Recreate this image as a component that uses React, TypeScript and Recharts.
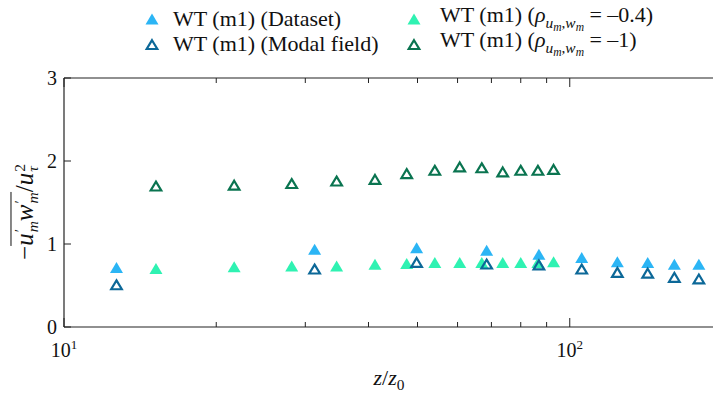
import { ScatterChart, Scatter, XAxis, YAxis } from "recharts";

const FONT = "Liberation Serif, DejaVu Serif, serif";
const INK = "#222";

// dataset and modal field share the same heights
const zDataset = [12.7, 31.3, 49.8, 68.5, 86.9, 105.6, 124.2, 142.6, 161, 180];
const uwDataset = [0.71, 0.93, 0.95, 0.92, 0.87, 0.83, 0.78, 0.77, 0.75, 0.75];
const uwModal = [0.51, 0.7, 0.78, 0.76, 0.75, 0.7, 0.66, 0.65, 0.6, 0.58];

// correlation-model heights
const zRho = [15.2, 21.7, 28.2, 34.6, 41.2, 47.6, 54.1, 60.6, 67.0, 73.7, 80.0, 86.5, 92.9];
const uwRho04 = [0.7, 0.72, 0.73, 0.73, 0.75, 0.76, 0.77, 0.77, 0.77, 0.77, 0.77, 0.77, 0.78];
const uwRho1 = [1.7, 1.71, 1.73, 1.76, 1.78, 1.85, 1.89, 1.93, 1.92, 1.87, 1.89, 1.89, 1.9];

const xTicks = [10, 20, 30, 40, 50, 60, 70, 80, 90, 100, 200];
const yTicks = [0, 1, 2, 3];

const COLORS = {
  dataset: "#2bb5f5",
  modal: "#0c6898",
  rho04: "#2ff2b2",
  rho1: "#0a7450",
};

const toPoints = (xs: number[], ys: number[]) => xs.map((z, i) => ({ z, v: ys[i] }));

const filledTriangle = (color: string) => (props: any) => {
  const { cx, cy } = props;
  return <path d={`M${cx},${cy - 6}L${cx + 6.5},${cy + 5}L${cx - 6.5},${cy + 5}Z`} fill={color} />;
};

const hollowTriangle = (color: string) => (props: any) => {
  const { cx, cy } = props;
  return (
    <path
      d={`M${cx},${cy - 4.3}L${cx + 5.3},${cy + 4.6}L${cx - 5.3},${cy + 4.6}Z`}
      fill="none"
      stroke={color}
      strokeWidth={2.2}
    />
  );
};

const isMajor = (v: number) => v === 10 || v === 100;

const BottomTick = ({ x, y, payload }: any) => {
  const v = payload.value;
  return (
    <g>
      <line x1={x} x2={x} y1={y} y2={y - (isMajor(v) ? 9 : 5)} stroke={INK} />
      {isMajor(v) && (
        <text x={x} y={y + 30} textAnchor="middle" fontSize={20} fontFamily={FONT} fill="#111">
          10
          <tspan dy={-8} fontSize={13}>
            {Math.round(Math.log10(v))}
          </tspan>
        </text>
      )}
    </g>
  );
};

const TopTick = ({ x, y, payload }: any) => (
  <line x1={x} x2={x} y1={y} y2={y + (isMajor(payload.value) ? 9 : 5)} stroke={INK} />
);

const LeftTick = ({ x, y, payload }: any) => (
  <g>
    <line x1={x} x2={x + 7} y1={y} y2={y} stroke={INK} />
    <text x={x - 7} y={y} dy="0.36em" textAnchor="end" fontSize={20} fontFamily={FONT} fill="#111">
      {payload.value}
    </text>
  </g>
);

// prime / exponent stacked over a subscript
const Stack = ({ top, bottom }: { top: string; bottom: string }) => (
  <span
    style={{
      display: "inline-flex",
      flexDirection: "column",
      fontSize: "0.62em",
      lineHeight: 0.8,
      verticalAlign: "0.5em",
      marginLeft: 1,
    }}
  >
    <span>{top}</span>
    <i>{bottom}</i>
  </span>
);

const LegendMarker = ({ color, hollow, gap }: { color: string; hollow?: boolean; gap: number }) => (
  <svg width={16} height={14} style={{ marginRight: gap, flex: "none" }}>
    {hollow ? (
      <path d="M8,3.2L13.3,12L2.7,12Z" fill="none" stroke={color} strokeWidth={2.2} />
    ) : (
      <path d="M8,1.5L14.5,12.5L1.5,12.5Z" fill={color} />
    )}
  </svg>
);

const Rho = () => (
  <>
    <i>ρ</i>
    <span style={{ fontSize: "0.7em", verticalAlign: "-0.45em" }}>
      <i>u</i>
      <i style={{ fontSize: "0.75em", verticalAlign: "-0.3em" }}>m</i>,<i>w</i>
      <i style={{ fontSize: "0.75em", verticalAlign: "-0.3em" }}>m</i>
    </span>
  </>
);

const legendRows = [
  { left: 144, top: 7, gap: 13, color: COLORS.dataset, hollow: false, text: <>WT (m1) (Dataset)</> },
  { left: 144, top: 32, gap: 13, color: COLORS.modal, hollow: true, text: <>WT (m1) (Modal field)</> },
  {
    left: 406,
    top: 7,
    gap: 18,
    color: COLORS.rho04,
    hollow: false,
    text: (
      <>
        WT (m1) (<Rho /> = –0.4)
      </>
    ),
  },
  {
    left: 406,
    top: 32,
    gap: 18,
    color: COLORS.rho1,
    hollow: true,
    text: (
      <>
        WT (m1) (<Rho /> = –1)
      </>
    ),
  },
];

export default function App() {
  return (
    <div
      style={{
        position: "absolute",
        left: 0,
        top: 0,
        width: 713,
        height: 395,
        overflow: "hidden",
        background: "#fff",
        fontFamily: FONT,
        color: "#111",
      }}
    >
      <ScatterChart width={740} height={395} margin={{ top: 78, right: 18, bottom: 0, left: 0 }}>
        <XAxis
          xAxisId="bottom"
          dataKey="z"
          type="number"
          scale="log"
          domain={[10, 200]}
          allowDataOverflow
          ticks={xTicks}
          height={68}
          tickSize={0}
          tickMargin={0}
          tickLine={false}
          tick={<BottomTick />}
          axisLine={{ stroke: INK, strokeWidth: 1.2 }}
          interval={0}
        />
        <XAxis
          xAxisId="top"
          orientation="top"
          mirror
          dataKey="z"
          type="number"
          scale="log"
          domain={[10, 200]}
          allowDataOverflow
          ticks={xTicks}
          tickSize={0}
          tickMargin={0}
          tickLine={false}
          tick={<TopTick />}
          axisLine={{ stroke: INK, strokeWidth: 1.2 }}
          interval={0}
        />
        <YAxis
          yAxisId="left"
          dataKey="v"
          type="number"
          domain={[0, 3]}
          ticks={yTicks}
          width={64}
          tickSize={0}
          tickMargin={0}
          tickLine={false}
          tick={<LeftTick />}
          axisLine={{ stroke: INK, strokeWidth: 1.2 }}
          interval={0}
        />
        <Scatter
          name="WT (m1) (ρ = –0.4)"
          xAxisId="bottom"
          yAxisId="left"
          data={toPoints(zRho, uwRho04)}
          shape={filledTriangle(COLORS.rho04)}
          isAnimationActive={false}
        />
        <Scatter
          name="WT (m1) (ρ = –1)"
          xAxisId="bottom"
          yAxisId="left"
          data={toPoints(zRho, uwRho1)}
          shape={hollowTriangle(COLORS.rho1)}
          isAnimationActive={false}
        />
        <Scatter
          name="WT (m1) (Dataset)"
          xAxisId="bottom"
          yAxisId="left"
          data={toPoints(zDataset, uwDataset)}
          shape={filledTriangle(COLORS.dataset)}
          isAnimationActive={false}
        />
        <Scatter
          name="WT (m1) (Modal field)"
          xAxisId="bottom"
          yAxisId="left"
          data={toPoints(zDataset, uwModal)}
          shape={hollowTriangle(COLORS.modal)}
          isAnimationActive={false}
        />
      </ScatterChart>

      {/* legend */}
      {legendRows.map((row, i) => (
        <div
          key={i}
          style={{
            position: "absolute",
            left: row.left,
            top: row.top,
            height: 24,
            display: "flex",
            alignItems: "center",
            fontSize: 22,
            lineHeight: 1,
            whiteSpace: "nowrap",
          }}
        >
          <LegendMarker color={row.color} hollow={row.hollow} gap={row.gap} />
          <span>{row.text}</span>
        </div>
      ))}

      {/* y axis title */}
      <div
        style={{
          position: "absolute",
          left: 25,
          top: 212,
          transform: "translate(-50%, -50%) rotate(-90deg)",
          whiteSpace: "nowrap",
          fontSize: 25,
          lineHeight: 1,
        }}
      >
        −
        <span style={{ display: "inline-block", borderTop: "1.4px solid #111", paddingTop: 1 }}>
          <i>u</i>
          <Stack top="′" bottom="m" />
          <i>w</i>
          <Stack top="′" bottom="m" />
        </span>
        /<i>u</i>
        <Stack top="2" bottom="τ" />
      </div>

      {/* x axis title */}
      <div
        style={{
          position: "absolute",
          left: 389,
          top: 380,
          transform: "translate(-50%, -50%)",
          whiteSpace: "nowrap",
          fontSize: 22,
          lineHeight: 1,
        }}
      >
        <i>z</i>/<i>z</i>
        <span style={{ fontSize: "0.7em", verticalAlign: "-0.3em" }}>0</span>
      </div>
    </div>
  );
}
